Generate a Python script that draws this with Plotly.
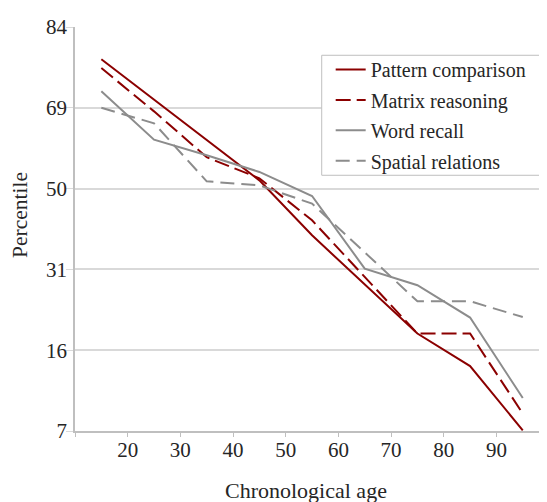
import plotly.graph_objects as go

# Chronological age (x) and z-score performance (y axis is linear in z; labelled as percentiles)
ages = [15, 25, 35, 45, 55, 65, 75, 85, 95]
pattern_comparison = [0.800, 0.551, 0.301, 0.051, -0.289, -0.592, -0.897, -1.098, -1.496]
matrix_reasoning = [0.746, 0.478, 0.194, 0.064, -0.196, -0.549, -0.897, -0.897, -1.392]
word_recall = [0.602, 0.303, 0.206, 0.103, -0.046, -0.495, -0.598, -0.798, -1.296]
spatial_relations = [0.500, 0.404, 0.045, 0.020, -0.093, -0.394, -0.697, -0.697, -0.795]

y_tick_vals = [-1.5, -1.0, -0.5, 0.0, 0.5, 1.0]
y_tick_text = ["7", "16", "31", "50", "69", "84"]
x_tick_vals = [10, 20, 30, 40, 50, 60, 70, 80, 90]
x_tick_text = ["", "20", "30", "40", "50", "60", "70", "80", "90"]

RED = "#8b0000"
GREY = "#8c8c8c"
FONT = "Liberation Serif"
TXT = "#262626"

fig = go.Figure()
series = [
    ("Pattern comparison", pattern_comparison, RED, "solid"),
    ("Matrix reasoning", matrix_reasoning, RED, "15px,6px"),
    ("Word recall", word_recall, GREY, "solid"),
    ("Spatial relations", spatial_relations, GREY, "14px,7px"),
]
for name, vals, col, dash in series:
    fig.add_trace(go.Scatter(x=ages, y=vals, name=name, mode="lines", legendgroup=name,
                             line=dict(color=col, width=2, dash=dash)))

fig.update_layout(
    width=539, height=494,
    margin=dict(l=67, r=0, t=19, b=71),
    paper_bgcolor="white", plot_bgcolor="white",
    font=dict(family=FONT, size=20, color=TXT),
    showlegend=True,
    legend=dict(x=0.5417, y=0.943, xanchor="left", yanchor="top",
                borderwidth=0, bgcolor="rgba(0,0,0,0)",
                font=dict(family=FONT, size=20, color=TXT),
                tracegroupgap=1.4, itemwidth=30),
    shapes=[dict(type="rect", xref="paper", yref="paper",
                 x0=0.5227, x1=0.990, y0=0.633, y1=0.930,
                 line=dict(color="#bfbfbf", width=1), fillcolor="white", layer="above")],
    xaxis=dict(range=[10, 99.6], tickvals=x_tick_vals, ticktext=x_tick_text,
               showgrid=False, zeroline=False, showline=True, linecolor="#bfbfbf",
               linewidth=1.5, ticks="outside", ticklen=4, tickcolor="#bfbfbf",
               ticklabelstandoff=-5,
               tickfont=dict(family=FONT, size=21, color=TXT)),
    yaxis=dict(range=[-1.5, 1.0], tickvals=y_tick_vals, ticktext=y_tick_text,
               showgrid=True, gridcolor="#d9d9d9", gridwidth=1.5, zeroline=False,
               showline=True, linecolor="#bfbfbf", linewidth=1.5,
               ticks="outside", ticklen=7, tickcolor="#d9d9d9",
               ticklabelstandoff=-5,
               tickfont=dict(family=FONT, size=21, color=TXT)),
    annotations=[
        dict(text="Percentile", xref="paper", yref="paper", x=-0.115, y=0.534,
             xanchor="center", yanchor="middle", textangle=-90, showarrow=False,
             font=dict(family=FONT, size=21.5, color=TXT)),
        dict(text="Chronological age", xref="paper", yref="paper", x=0.49, y=-0.147,
             xanchor="center", yanchor="middle", showarrow=False,
             font=dict(family=FONT, size=22, color=TXT)),
    ],
)

fig.write_html("out.html")
